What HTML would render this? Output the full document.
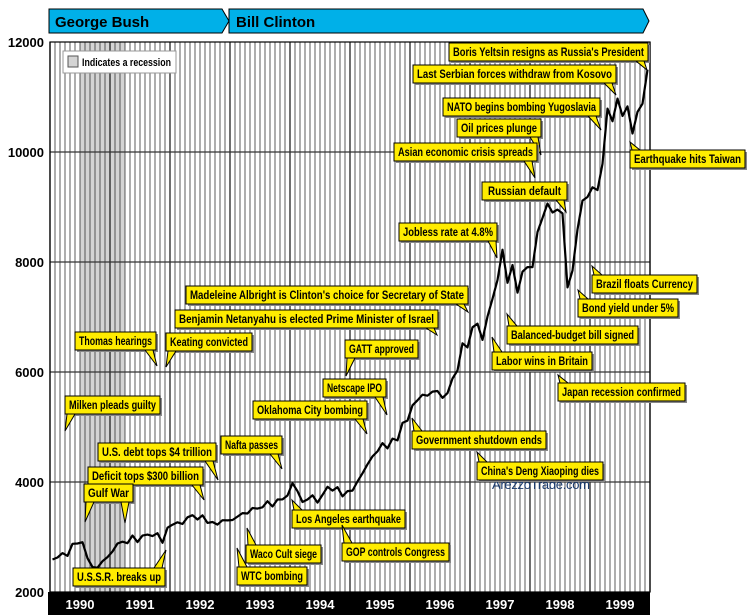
<!DOCTYPE html>
<html><head><meta charset="utf-8"><style>
html,body{margin:0;padding:0;background:#fff;width:750px;height:615px;overflow:hidden}
svg{display:block}
.c text{font-family:"Liberation Sans",sans-serif;font-weight:bold;font-size:12px;fill:#000}
.ax{font-family:"Liberation Sans",sans-serif;font-weight:bold;font-size:13px}
</style></head><body>
<svg id="s" width="750" height="615" viewBox="0 0 750 615" xmlns="http://www.w3.org/2000/svg">
<rect x="0" y="0" width="750" height="615" fill="#fff"/>
<polygon points="49,9 222,9 229,21 222,33 49,33" fill="#00b0e8" stroke="#000" stroke-width="1"/>
<polygon points="229,9 643,9 649,21 643,33 229,33" fill="#00b0e8" stroke="#000" stroke-width="1"/>
<text x="55" y="27" class="ax" style="font-size:15px">George Bush</text>
<text x="236" y="27" class="ax" style="font-size:15px">Bill Clinton</text>
<rect x="80" y="42" width="45" height="550" fill="#d4d4d4"/>
<g id="grid"></g>
<g stroke="#333" stroke-width="1.2">
<line x1="50" y1="152" x2="650" y2="152"/><line x1="50" y1="262" x2="650" y2="262"/>
<line x1="50" y1="372" x2="650" y2="372"/><line x1="50" y1="482" x2="650" y2="482"/>
</g>
<rect x="50" y="42" width="600" height="550" fill="none" stroke="#000" stroke-width="1.2"/>
<rect x="63" y="51" width="113" height="22" fill="#fff" stroke="#999"/>
<rect x="68" y="56" width="10" height="11" fill="#d4d4d4" stroke="#555"/>
<text x="82" y="66" style="font-family:'Liberation Sans',sans-serif;font-size:11px;font-weight:bold" textLength="89" lengthAdjust="spacingAndGlyphs">Indicates a recession</text>
<text x="492" y="489" style="font-family:'Liberation Sans',sans-serif;font-size:13px;fill:#1a3b6e" textLength="98">ArezzoTrade.com</text>
<polyline id="dow" fill="none" stroke="#000" stroke-width="2.2" stroke-linejoin="round"/>
<g class="ax" text-anchor="end">
<text x="44" y="47">12000</text><text x="44" y="157">10000</text><text x="44" y="267">8000</text>
<text x="44" y="377">6000</text><text x="44" y="487">4000</text><text x="44" y="597">2000</text>
</g>
<rect x="48" y="592" width="602" height="23" fill="#000"/>
<g class="ax" fill="#fff" text-anchor="middle">
<text x="80" y="609">1990</text><text x="140" y="609">1991</text><text x="200" y="609">1992</text><text x="260" y="609">1993</text><text x="320" y="609">1994</text><text x="380" y="609">1995</text><text x="440" y="609">1996</text><text x="500" y="609">1997</text><text x="560" y="609">1998</text><text x="620" y="609">1999</text>
</g>
</svg>
<svg style="position:absolute;left:0;top:0" width="750" height="615" viewBox="0 0 750 615" xmlns="http://www.w3.org/2000/svg" class="c">
<style>.b{fill:#ffec00;stroke:#000;stroke-width:1}.sh{fill:#888}</style>
<g>
<rect class="sh" x="451" y="45" width="199" height="18"/><polygon class="b" points="636,61 644,61 647,70"/><rect class="b" x="449" y="43" width="199" height="18"/><text x="453" y="56" textLength="191">Boris Yeltsin resigns as Russia's President</text>
<rect class="sh" x="415" y="67" width="203" height="18"/><polygon class="b" points="604,83 612,83 616,95"/><rect class="b" x="413" y="65" width="203" height="18"/><text x="417" y="78" textLength="195">Last Serbian forces withdraw from Kosovo</text>
<rect class="sh" x="445" y="100" width="157" height="18"/><polygon class="b" points="588,116 596,116 601,130"/><rect class="b" x="443" y="98" width="157" height="18"/><text x="447" y="111" textLength="149">NATO begins bombing Yugoslavia</text>
<rect class="sh" x="459" y="121" width="84" height="18"/><polygon class="b" points="530,137 538,137 541,155"/><rect class="b" x="457" y="119" width="84" height="18"/><text x="461" y="132" textLength="76">Oil prices plunge</text>
<rect class="sh" x="396" y="145" width="143" height="18"/><polygon class="b" points="524,161 532,161 535,178"/><rect class="b" x="394" y="143" width="143" height="18"/><text x="398" y="156" textLength="135">Asian economic crisis spreads</text>
<rect class="sh" x="484" y="184" width="85" height="18"/><polygon class="b" points="556,200 564,200 566,212"/><rect class="b" x="482" y="182" width="85" height="18"/><text x="488" y="195" textLength="73">Russian default</text>
<rect class="sh" x="632" y="152" width="115" height="18"/><polygon class="b" points="632,150 640,150 630,142"/><rect class="b" x="630" y="150" width="115" height="18"/><text x="634" y="163" textLength="107">Earthquake hits Taiwan</text>
<rect class="sh" x="401" y="225" width="98" height="18"/><polygon class="b" points="488,241 496,241 497,258"/><rect class="b" x="399" y="223" width="98" height="18"/><text x="403" y="236" textLength="90">Jobless rate at 4.8%</text>
<rect class="sh" x="594" y="277" width="105" height="18"/><polygon class="b" points="594,275 602,275 592,266"/><rect class="b" x="592" y="275" width="105" height="18"/><text x="596" y="288" textLength="97">Brazil floats Currency</text>
<rect class="sh" x="580" y="301" width="100" height="18"/><polygon class="b" points="580,299 588,299 578,290"/><rect class="b" x="578" y="299" width="100" height="18"/><text x="582" y="312" textLength="92">Bond yield under 5%</text>
<rect class="sh" x="188" y="288" width="282" height="18"/><polygon class="b" points="456,304 464,304 468,312"/><rect class="b" x="186" y="286" width="282" height="18"/><text x="190" y="299" textLength="274">Madeleine Albright is Clinton's choice for Secretary of State</text>
<rect class="sh" x="177" y="312" width="263" height="18"/><polygon class="b" points="426,328 434,328 437,335"/><rect class="b" x="175" y="310" width="263" height="18"/><text x="179" y="323" textLength="255">Benjamin Netanyahu is elected Prime Minister of Israel</text>
<rect class="sh" x="509" y="328" width="131" height="18"/><polygon class="b" points="509,326 517,326 507,314"/><rect class="b" x="507" y="326" width="131" height="18"/><text x="511" y="339" textLength="123">Balanced-budget bill signed</text>
<rect class="sh" x="77" y="334" width="81" height="18"/><polygon class="b" points="145,350 153,350 157,366"/><rect class="b" x="75" y="332" width="81" height="18"/><text x="79" y="345" textLength="73">Thomas hearings</text>
<rect class="sh" x="168" y="335" width="86" height="18"/><polygon class="b" points="168,351 176,351 166,367"/><rect class="b" x="166" y="333" width="86" height="18"/><text x="170" y="346" textLength="78">Keating convicted</text>
<rect class="sh" x="347" y="342" width="73" height="18"/><polygon class="b" points="347,358 355,358 346,376"/><rect class="b" x="345" y="340" width="73" height="18"/><text x="349" y="353" textLength="65">GATT approved</text>
<rect class="sh" x="494" y="354" width="100" height="18"/><polygon class="b" points="494,352 502,352 492,337"/><rect class="b" x="492" y="352" width="100" height="18"/><text x="496" y="365" textLength="92">Labor wins in Britain</text>
<rect class="sh" x="325" y="381" width="63" height="18"/><polygon class="b" points="375,397 383,397 387,415"/><rect class="b" x="323" y="379" width="63" height="18"/><text x="327" y="392" textLength="55">Netscape IPO</text>
<rect class="sh" x="67" y="398" width="95" height="18"/><polygon class="b" points="67,414 75,414 65,431"/><rect class="b" x="65" y="396" width="95" height="18"/><text x="69" y="409" textLength="87">Milken pleads guilty</text>
<rect class="sh" x="560" y="385" width="127" height="18"/><polygon class="b" points="560,383 568,383 558,375"/><rect class="b" x="558" y="383" width="127" height="18"/><text x="562" y="396" textLength="119">Japan recession confirmed</text>
<rect class="sh" x="255" y="403" width="114" height="18"/><polygon class="b" points="355,419 363,419 367,434"/><rect class="b" x="253" y="401" width="114" height="18"/><text x="257" y="414" textLength="106">Oklahoma City bombing</text>
<rect class="sh" x="414" y="433" width="134" height="18"/><polygon class="b" points="414,431 422,431 412,418"/><rect class="b" x="412" y="431" width="134" height="18"/><text x="416" y="444" textLength="126">Government shutdown ends</text>
<rect class="sh" x="100" y="445" width="118" height="18"/><polygon class="b" points="205,461 213,461 218,480"/><rect class="b" x="98" y="443" width="118" height="18"/><text x="102" y="456" textLength="110">U.S. debt tops $4 trillion</text>
<rect class="sh" x="223" y="438" width="61" height="18"/><polygon class="b" points="270,454 278,454 282,469"/><rect class="b" x="221" y="436" width="61" height="18"/><text x="225" y="449" textLength="53">Nafta passes</text>
<rect class="sh" x="479" y="464" width="126" height="18"/><polygon class="b" points="479,462 487,462 477,452"/><rect class="b" x="477" y="462" width="126" height="18"/><text x="481" y="475" textLength="118">China's Deng Xiaoping dies</text>
<rect class="sh" x="90" y="469" width="115" height="18"/><polygon class="b" points="192,485 200,485 204,500"/><rect class="b" x="88" y="467" width="115" height="18"/><text x="92" y="480" textLength="107">Deficit tops $300 billion</text>
<rect class="sh" x="86" y="486" width="49" height="18"/><polygon class="b" points="86,502 94,502 85,522"/><polygon class="b" points="121,502 129,502 125,523"/><rect class="b" x="84" y="484" width="49" height="18"/><text x="88" y="497" textLength="41">Gulf War</text>
<rect class="sh" x="294" y="512" width="113" height="18"/><polygon class="b" points="294,510 302,510 292,500"/><rect class="b" x="292" y="510" width="113" height="18"/><text x="296" y="523" textLength="105">Los Angeles earthquake</text>
<rect class="sh" x="248" y="547" width="75" height="18"/><polygon class="b" points="248,545 256,545 247,528"/><rect class="b" x="246" y="545" width="75" height="18"/><text x="250" y="558" textLength="67">Waco Cult siege</text>
<rect class="sh" x="344" y="545" width="107" height="18"/><polygon class="b" points="344,543 352,543 342,525"/><rect class="b" x="342" y="543" width="107" height="18"/><text x="346" y="556" textLength="99">GOP controls Congress</text>
<rect class="sh" x="75" y="570" width="92" height="18"/><polygon class="b" points="154,568 162,568 166,550"/><rect class="b" x="73" y="568" width="92" height="18"/><text x="77" y="581" textLength="84">U.S.S.R. breaks up</text>
<rect class="sh" x="239" y="569" width="70" height="18"/><polygon class="b" points="239,567 247,567 237,548"/><rect class="b" x="237" y="567" width="70" height="18"/><text x="241" y="580" textLength="62">WTC bombing</text>
</g>
</svg>
<script>
var g=document.getElementById('grid'),h='';
for(var i=0;i<=120;i++){var x=50+5*i;var yr=i%12==0;h+='<line x1="'+x+'" y1="42" x2="'+x+'" y2="592" stroke="'+(yr?'#222':'#333')+'" stroke-width="'+(yr?1.3:0.8)+'"/>';}
g.innerHTML=h;
var d=[2591,2627,2707,2657,2877,2881,2905,2614,2453,2442,2560,2634,2736,2882,2914,2888,3028,2907,3025,3044,3017,3069,2895,3169,3224,3267,3236,3359,3397,3319,3394,3257,3272,3226,3305,3301,3310,3371,3435,3428,3527,3516,3540,3651,3555,3681,3684,3754,3978,3832,3636,3682,3758,3625,3765,3913,3843,3908,3739,3834,3843,4011,4158,4321,4465,4556,4708,4611,4789,4756,5075,5117,5395,5486,5587,5569,5643,5655,5529,5616,5882,6029,6522,6448,6813,6878,6584,7009,7331,7673,8223,7622,7945,7442,7823,7908,7907,8546,8800,9063,8900,8952,8883,7539,7843,8592,9117,9181,9359,9307,9786,10789,10560,10971,10655,10829,10337,10730,10878,11497];
var p=[];for(var i=0;i<d.length;i++)p.push((52.5+5*i)+','+(592-(d[i]-2000)*0.055).toFixed(1));
document.getElementById('dow').setAttribute('points',p.join(' '));
var ts=document.querySelectorAll('svg.c text');for(var k=0;k<ts.length;k++)ts[k].setAttribute('lengthAdjust','spacingAndGlyphs');
</script>
</body></html>
